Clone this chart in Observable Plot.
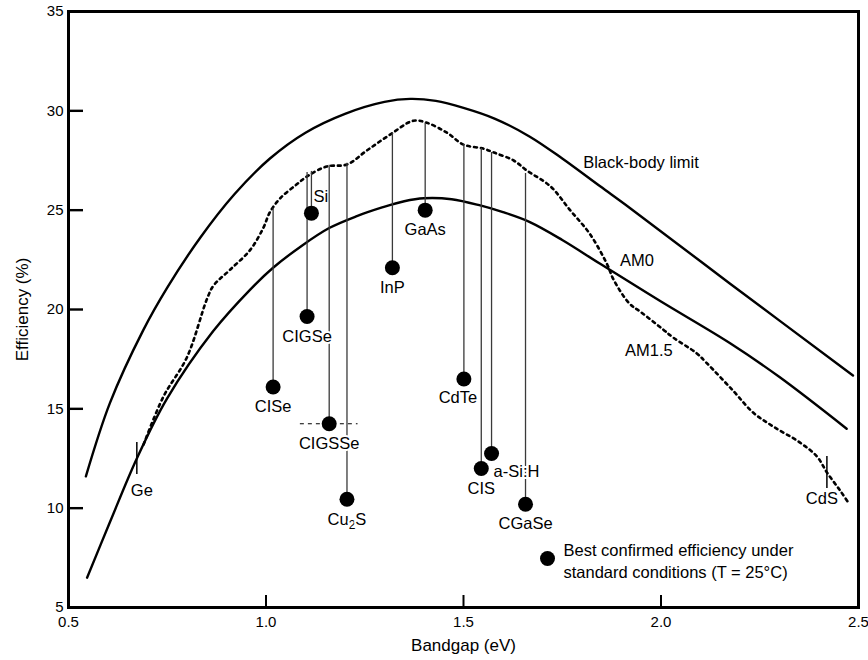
<!DOCTYPE html>
<html><head><meta charset="utf-8">
<script src="https://cdn.jsdelivr.net/npm/d3@7"></script>
<script src="https://cdn.jsdelivr.net/npm/@observablehq/plot@0.6"></script>
<style>body{margin:0;background:#fff} svg{display:block}</style>
</head><body><div id="chart"></div>
<script>
// Black-body limit (upper solid curve)
const bbGap = [0.544, 0.605, 0.689, 0.75, 0.833, 0.92, 1.01, 1.1, 1.2, 1.3, 1.365, 1.43, 1.5, 1.58, 1.668, 1.75, 1.846, 1.922, 2.175, 2.486];
const bbEff = [11.6, 15.3, 18.95, 21.1, 23.6, 25.8, 27.6, 28.9, 29.85, 30.45, 30.6, 30.5, 30.15, 29.6, 28.7, 27.6, 26.2, 25.1, 21.3, 16.68];
// AM0 (lower solid curve)
const am0Gap = [0.547, 0.605, 0.673, 0.749, 0.866, 0.96, 1.018, 1.09, 1.16, 1.23, 1.296, 1.35, 1.40, 1.47, 1.54, 1.6, 1.668, 1.75, 1.846, 2.0, 2.175, 2.3, 2.47];
const am0Eff = [6.5, 9.3, 12.5, 15.5, 18.9, 21.0, 22.1, 23.2, 24.1, 24.7, 25.15, 25.45, 25.6, 25.55, 25.25, 24.9, 24.4, 23.5, 22.3, 20.4, 18.3, 16.6, 14.0];
// AM1.5 (dotted curve)
const am15Gap = [0.69, 0.74, 0.80, 0.85, 0.867, 0.909, 0.96, 0.993, 1.01, 1.036, 1.078, 1.104, 1.154, 1.205, 1.255, 1.314, 1.373, 1.407, 1.458, 1.5, 1.55, 1.577, 1.627, 1.66, 1.72, 1.77, 1.82, 1.863, 1.88, 1.92, 1.947, 2.005, 2.03, 2.09, 2.116, 2.183, 2.234, 2.285, 2.352, 2.395, 2.42, 2.453, 2.477];
const am15Eff = [13.2, 15.6, 17.6, 20.5, 21.2, 22.0, 23.0, 24.1, 24.9, 25.6, 26.3, 26.7, 27.2, 27.3, 28.0, 28.8, 29.5, 29.4, 28.9, 28.3, 28.1, 27.9, 27.5, 27.0, 26.2, 25.0, 23.8, 22.3, 21.5, 20.3, 19.9, 19.0, 18.6, 17.8, 17.3, 15.9, 14.8, 14.1, 13.3, 12.6, 11.8, 10.9, 10.2];

// Best confirmed cells
const materials = ["CISe", "CIGSe", "Si", "CIGSSe", "Cu2S", "InP", "GaAs", "CdTe", "CIS", "a-Si:H", "CGaSe"];
const gap = [1.018, 1.104, 1.115, 1.16, 1.205, 1.32, 1.403, 1.501, 1.545, 1.571, 1.657];
const eff = [16.1, 19.65, 24.85, 14.25, 10.45, 22.1, 25.0, 16.5, 12.0, 12.75, 10.2];
const limitAtGap = [25.1, 26.9, 26.95, 27.26, 27.36, 28.9, 29.37, 28.3, 28.1, 27.9, 26.85];
const cigsseRange = [1.087, 1.233];

// Bandgap markers on curves
const markerNames = ["Ge", "CdS"];
const markerGap = [0.673, 2.42];
const markerEff = [12.5, 11.8];

// Curve labels
const curveLabels = ["Black-body limit", "AM0", "AM1.5"];
const curveLabelGap = [1.803, 1.896, 1.909];
const curveLabelEff = [27.4, 22.47, 17.94];

const xTicks = [0.5, 1.0, 1.5, 2.0, 2.5];
const yTicks = [5, 10, 15, 20, 25, 30, 35];
const legendText = "Best confirmed efficiency under\nstandard conditions (T = 25\u00B0C)";

const zip = (xs, ys) => xs.map((x, i) => ({x, y: ys[i]}));
const bb = zip(bbGap, bbEff), am0 = zip(am0Gap, am0Eff), am15 = zip(am15Gap, am15Eff);
const cells = materials.map((name, i) => ({name, gap: gap[i], eff: eff[i], top: limitAtGap[i]}));
const markers = markerNames.map((name, i) => ({name, gap: markerGap[i], eff: markerEff[i]}));
const labels = curveLabels.map((t, i) => ({t, x: curveLabelGap[i], y: curveLabelEff[i]}));
const cigsse = cells.find(d => d.name === "CIGSSe");
const yTickMarks = yTicks.slice(1, -1).map(v => ({v, edge: xTicks[0]}));
const xTickMarks = xTicks.slice(1, -1).map(v => ({v, edge: yTicks[0]}));

const W = 868, H = 660, mL = 68, mR = 10, mT = 11, mB = 53;
const F = "Liberation Sans, Arial, Helvetica, sans-serif";
const LF = 16.5;

const chart = Plot.plot({
  width: W, height: H,
  marginLeft: mL, marginRight: mR, marginTop: mT, marginBottom: mB,
  style: {fontFamily: F, fontSize: "15px", color: "black", background: "white", overflow: "visible"},
  x: {domain: [0.5, 2.5]},
  y: {domain: [5, 35]},
  marks: [
    Plot.axisX({ticks: xTicks, tickFormat: d => d.toFixed(1), tickSize: 0, tickPadding: 9, label: null, fontSize: 15}),
    Plot.axisY({ticks: yTicks, tickFormat: d => String(d), tickSize: 0, tickPadding: 5, label: null, fontSize: 15}),
    // inward tick marks
    Plot.ruleY(yTickMarks, {y: "v", x1: "edge", x2: "edge", insetRight: -15, stroke: "black", strokeWidth: 2.4}),
    Plot.ruleX(xTickMarks, {x: "v", y1: "edge", y2: "edge", insetTop: -12, stroke: "black", strokeWidth: 2}),
    Plot.line(bb, {x: "x", y: "y", curve: "catmull-rom", strokeWidth: 2.4}),
    Plot.line(am0, {x: "x", y: "y", curve: "catmull-rom", strokeWidth: 2.4}),
    Plot.line(am15, {x: "x", y: "y", curve: "catmull-rom", strokeWidth: 2.6, strokeDasharray: "2.8,4"}),
    Plot.ruleX(cells, {x: "gap", y1: "eff", y2: "top", stroke: "#3a3a3a", strokeWidth: 1.3}),
    Plot.ruleY([cigsse], {y: "eff", x1: () => cigsseRange[0], x2: () => cigsseRange[1], strokeWidth: 1.1, strokeDasharray: "4,4"}),
    Plot.ruleX(markers, {x: "gap", y1: "eff", y2: "eff", insetTop: -16, insetBottom: -16, strokeWidth: 1.5}),
    Plot.dot(cells, {x: "gap", y: "eff", r: 7.5, fill: "black"}),
    Plot.text(cells.filter(d => d.name !== "Si" && d.name !== "a-Si:H" && d.name !== "CdTe"), {x: "gap", y: "eff", text: "name", dy: 20, fontSize: LF, stroke: "white", strokeWidth: 4, fill: "black"}),
    Plot.text(cells.filter(d => d.name === "CdTe"), {x: "gap", y: "eff", text: "name", dy: 19, dx: -6, fontSize: LF, stroke: "white", strokeWidth: 4, fill: "black"}),
    Plot.text(cells.filter(d => d.name === "Si"), {x: "gap", y: "eff", text: "name", dy: -16, dx: 2, textAnchor: "start", fontSize: LF, fill: "black"}),
    Plot.text(cells.filter(d => d.name === "a-Si:H"), {x: "gap", y: "eff", text: "name", dy: 18, dx: 2, textAnchor: "start", fontSize: LF, stroke: "white", strokeWidth: 4, fill: "black"}),
    Plot.text(markers.filter(d => d.name === "Ge"), {x: "gap", y: "eff", text: "name", dy: 32, dx: 5, fontSize: LF, fill: "black"}),
    Plot.text(markers.filter(d => d.name === "CdS"), {x: "gap", y: "eff", text: "name", dy: 26, dx: -5, fontSize: LF, fill: "black"}),
    Plot.text(labels, {x: "x", y: "y", text: "t", textAnchor: "start", fontSize: LF, fill: "black"}),
    Plot.dot([legendText], {frameAnchor: "bottom-left", dx: 479, dy: -49, r: 7.5, fill: "black"}),
    Plot.text([legendText], {frameAnchor: "bottom-left", text: d => d, dx: 495, dy: -48, textAnchor: "start", lineAnchor: "middle", lineHeight: 1.35, fontSize: LF, fill: "black"}),
    Plot.text(["Efficiency (%)"], {frameAnchor: "left", text: d => d, rotate: -90, dx: -46, textAnchor: "middle", lineAnchor: "middle", fontSize: 17, fill: "black"}),
    Plot.text(["Bandgap (eV)"], {frameAnchor: "bottom", text: d => d, dy: 38, lineAnchor: "middle", textAnchor: "middle", fontSize: 17, fill: "black"}),
    Plot.frame({stroke: "black", strokeWidth: 3})
  ]
});
document.getElementById("chart").appendChild(chart);

// subscript for Cu2S
d3.select(chart).selectAll("text").each(function() {
  if (this.textContent === "Cu2S" && this.children.length === 0) {
    const t = d3.select(this);
    t.text("Cu");
    t.append("tspan").attr("dy", 4).attr("font-size", 12).text("2");
    t.append("tspan").attr("dy", -4).text("S");
  }
});
</script>
</body></html>
